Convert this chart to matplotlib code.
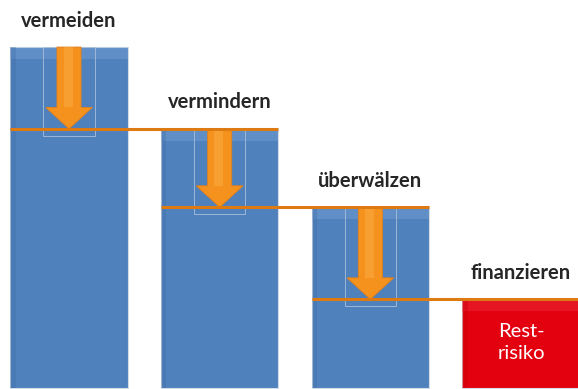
import matplotlib
import numpy as np

matplotlib.use("Agg")

from matplotlib import pyplot as plt  # noqa: E402
from matplotlib.patches import FancyArrow, Rectangle  # noqa: E402

# risk level remaining after each step (top of each bar, % of initial risk)
categories = ["vermeiden", "vermindern", "überwälzen", "finanzieren"]
levels = [100, 76, 53, 26]
rest_label = "Rest-\nrisiko"

BLUE = "#4F81BD"
RED = "#E3000F"
ORANGE_LINE = "#DD7A12"
ORANGE = "#F5921E"
ORANGE_LIGHT = "#FBB24A"
TEXT = "#262626"

plt.rcParams["font.family"] = ["Lato", "DejaVu Sans"]

fig = plt.figure(figsize=(5.78, 3.89), dpi=100)
ax = fig.add_axes([0, 0, 1, 1])
ax.set_xlim(-0.458, 3.378)
ax.set_ylim(-0.3, 113.8)
ax.axis("off")

x = np.arange(len(categories))
width = 0.78
colors = [BLUE] * (len(categories) - 1) + [RED]

bars = ax.bar(x, levels, width=width, color=colors, edgecolor="#D5DCE6",
              linewidth=0.8, zorder=1)

# soft bevel on each bar
for bar, c in zip(bars, colors):
    x0, w, h = bar.get_x(), bar.get_width(), bar.get_height()
    light = "#8AAEDB" if c == BLUE else "#F0474F"
    ax.add_patch(Rectangle((x0, h - 3.5), w, 3.5, color=light, alpha=0.3,
                           lw=0, zorder=2))
    ax.add_patch(Rectangle((x0, 0), 0.035, h,
                           color="#3E6EA8" if c == BLUE else "#C8000C",
                           alpha=0.35, lw=0, zorder=2))

# horizontal level lines and arrows
for i in range(len(categories) - 1):
    top, nxt = levels[i], levels[i + 1]
    x_start = x[i] - width / 2
    x_end = x[i + 1] + width / 2 if i < len(categories) - 2 else 3.378
    ax.plot([x_start, x_end], [nxt, nxt], color=ORANGE_LINE, lw=2.2,
            solid_capstyle="butt", zorder=5)

    # faint selection box around arrow
    ax.add_patch(Rectangle((x[i] - 0.17, nxt - 2.0), 0.34, top - nxt + 2.0,
                           fill=False, edgecolor="#A9BEDC", lw=0.6, zorder=3))
    ax.add_patch(FancyArrow(x[i], top, 0, -(top - nxt), width=0.16,
                            head_width=0.31, head_length=6.3,
                            length_includes_head=True, facecolor=ORANGE,
                            edgecolor="#E0801A", lw=0.6, zorder=4))
    ax.add_patch(Rectangle((x[i] - 0.035, nxt + 6.3), 0.06, top - nxt - 6.3,
                           color=ORANGE_LIGHT, alpha=0.45, lw=0, zorder=4))

for xi, lvl, name in zip(x, levels, categories):
    ax.annotate(name, (xi, lvl), xytext=(0, 19), textcoords="offset points",
                ha="center", va="center", fontsize=14.5, fontweight="bold",
                color=TEXT)

ax.text(x[-1], levels[-1] / 2 + 0.3, rest_label, ha="center", va="center",
        fontsize=14.5, color="white", linespacing=1.4)

fig.savefig("out.png", dpi=100)
plt.close(fig)
